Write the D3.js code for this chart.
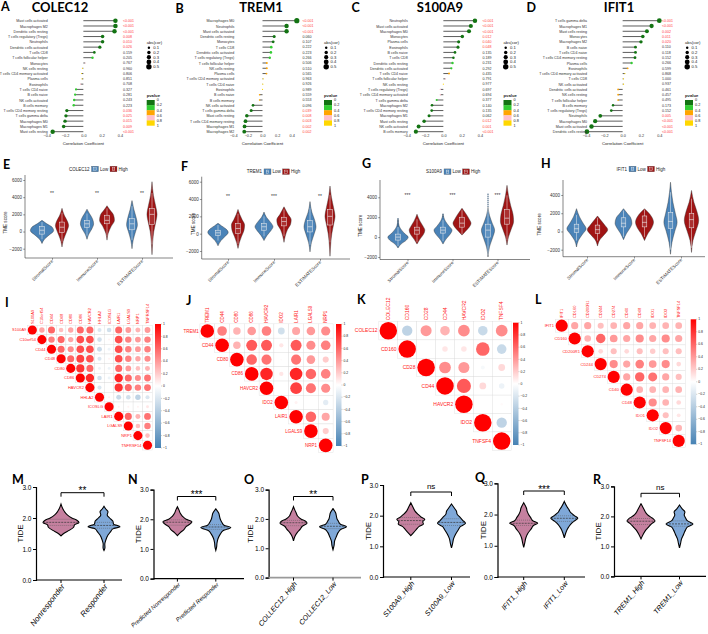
<!DOCTYPE html>
<html><head><meta charset="utf-8">
<script src="https://cdn.jsdelivr.net/npm/d3@7/dist/d3.min.js"></script>
<style>html,body{margin:0;padding:0;background:#fff;}svg{display:block;}</style>
</head><body>
<svg id="fig" width="708" height="634" xmlns="http://www.w3.org/2000/svg"></svg>
<script>
const FONT = "'Liberation Sans', Arial, Helvetica, sans-serif";
const BOLD = "Lato, 'Open Sans', 'Liberation Sans', sans-serif";

// ================= A-D : immune cell correlation lollipops =================
const cellsA = ["Mast cells activated","Macrophages M2","Dendritic cells resting","T cells regulatory (Tregs)","Neutrophils","Dendritic cells activated","T cells CD8","T cells follicular helper","Monocytes","NK cells resting","T cells CD4 memory activated","Plasma cells","Eosinophils","T cells CD4 naive","B cells naive","NK cells activated","B cells memory","T cells CD4 memory resting","T cells gamma delta","Macrophages M0","Macrophages M1","Mast cells resting"];
const corA = [0.35,0.35,0.34,0.21,0.21,0.18,0.12,0.10,0.02,-0.01,-0.02,-0.015,-0.03,-0.08,-0.09,-0.10,-0.105,-0.18,-0.19,-0.20,-0.215,-0.335];
const pA = [0,0,0,0.008,0.010,0.026,0.159,0.205,0.767,0.960,0.806,0.851,0.708,0.327,0.281,0.243,0.223,0.036,0.025,0.015,0.009,0];

const cellsB = ["Macrophages M0","Neutrophils","Mast cells activated","Dendritic cells resting","Monocytes","T cells CD8","Dendritic cells activated","T cells regulatory (Tregs)","T cells follicular helper","NK cells resting","Plasma cells","T cells CD4 memory activated","T cells CD4 naive","Eosinophils","B cells naive","B cells memory","NK cells activated","T cells gamma delta","Mast cells resting","T cells CD4 memory resting","Macrophages M1","Macrophages M2"];
const corB = [0.47,0.33,0.33,0.16,0.146,0.12,0.115,0.10,0.06,0.06,0.055,0.01,0.005,0.0,-0.04,-0.04,-0.13,-0.155,-0.215,-0.233,-0.246,-0.25];
const pB = [0,0,0,0.060,0.107,0.222,0.223,0.266,0.506,0.510,0.565,0.963,0.926,0.989,0.559,0.553,0.096,0.039,0.008,0.003,0.002,0.002];

const cellsC = ["Neutrophils","Mast cells activated","Macrophages M0","Monocytes","Plasma cells","Eosinophils","B cells naive","T cells CD8","Dendritic cells resting","Dendritic cells activated","T cells CD4 naive","T cells follicular helper","NK cells resting","T cells regulatory (Tregs)","T cells CD4 memory activated","T cells gamma delta","Macrophages M2","T cells CD4 memory resting","Macrophages M1","Mast cells resting","NK cells activated","B cells memory"];
const corC = [0.345,0.30,0.28,0.207,0.167,0.16,0.127,0.11,0.10,0.087,0.062,0.022,0.0,-0.033,-0.033,-0.073,-0.124,-0.127,-0.156,-0.21,-0.27,-0.30];
const pC = [0,0,0,0.012,0.040,0.048,0.135,0.189,0.231,0.292,0.435,0.791,0.977,0.697,0.694,0.377,0.140,0.135,0.062,0.012,0.001,0];

const cellsD = ["T cells gamma delta","Macrophages M1","Mast cells resting","Monocytes","Macrophages M2","B cells naive","T cells CD4 naive","T cells CD4 memory resting","Plasma cells","Eosinophils","T cells CD4 memory activated","T cells CD8","NK cells activated","Dendritic cells activated","NK cells resting","T cells follicular helper","B cells memory","T cells regulatory (Tregs)","Neutrophils","Macrophages M0","Mast cells activated","Dendritic cells resting"];
const corD = [0.40,0.316,0.265,0.22,0.20,0.14,0.14,0.135,0.098,0.055,0.025,0.01,0.01,-0.05,-0.05,-0.05,-0.105,-0.124,-0.244,-0.30,-0.34,-0.39];
const pD = [0,0,0.002,0.011,0.020,0.110,0.118,0.152,0.266,0.599,0.868,1.000,0.937,0.461,0.457,0.495,0.173,0.152,0.005,0,0,0];

const corTicks = [-0.4,-0.2,0,0.2,0.4];
const absCorLegend = [0.1,0.2,0.3,0.4,0.5];
const pLegend = [0,0.2,0.4,0.6,0.8,1];
const pColors = ["#137313","#33cc33","#ffa500","#ffc0cb","#ffd700"];

// ================= E-H : TME scores =================
const tmeGroups = ["StromalScore","ImmuneScore","ESTIMATEScore"];
const tmeTicksEF = [-2000,0,2000,4000,6000];
const tmeTicksGH = [-2000,0,2000,4000];
// violin knots: [value, relative density]
const colec12Low = [
  [[-1400,0],[-900,0.2],[-400,0.6],[100,0.97],[500,0.85],[900,0.4],[1300,0]],
  [[-900,0],[-300,0.15],[300,0.4],[900,0.55],[1500,0.45],[2100,0.2],[2600,0]],
  [[-2000,0],[-1000,0.1],[0,0.3],[800,0.45],[1600,0.35],[2600,0.15],[3600,0]]];
const colec12High = [
  [[-1800,0],[-1200,0.08],[-500,0.25],[200,0.45],[700,0.55],[1200,0.45],[1800,0.22],[2300,0.08],[2700,0]],
  [[-1000,0],[-200,0.1],[600,0.35],[1300,0.62],[1900,0.55],[2500,0.25],[3000,0]],
  [[-2700,0],[-1200,0.06],[0,0.15],[1000,0.3],[2000,0.42],[3000,0.3],[4200,0.12],[5800,0]]];
const colec12LowBox = [[-900,-300,150,600,1100],[-500,500,900,1300,2100],[-1000,200,900,1500,3000]];
const colec12HighBox = [[-1200,-100,500,1100,2200],[-500,900,1300,1900,2700],[-1500,800,2000,2700,4500]];
const colec12Sig = ["**","**","**"];

const trem1Low = [
  [[-1400,0],[-800,0.25],[-300,0.6],[150,0.85],[500,0.7],[900,0.3],[1200,0]],
  [[-800,0],[-200,0.25],[400,0.6],[800,0.75],[1300,0.55],[1900,0.2],[2500,0]],
  [[-2100,0],[-1000,0.12],[0,0.35],[800,0.5],[1500,0.4],[2500,0.15],[3700,0]]];
const trem1High = [
  [[-1700,0],[-1000,0.12],[-300,0.3],[400,0.5],[1000,0.55],[1600,0.35],[2200,0.15],[2800,0]],
  [[-1000,0],[-300,0.1],[500,0.3],[1100,0.55],[1600,0.6],[2200,0.35],[3100,0]],
  [[-2600,0],[-1200,0.06],[0,0.15],[1200,0.32],[2000,0.42],[3000,0.3],[4200,0.12],[5500,0]]];
const trem1LowBox = [[-800,-200,100,400,1000],[-300,400,800,1200,2000],[-1300,200,800,1500,3000]];
const trem1HighBox = [[-1200,0,600,1200,2300],[-300,900,1400,1900,2800],[-1000,1000,2000,2800,4500]];
const trem1Sig = ["**","***","**"];

const s100a9Low = [
  [[-1100,0],[-700,0.25],[-300,0.7],[0,0.85],[300,0.6],[700,0.3],[1100,0.1],[1800,0]],
  [[-700,0],[-200,0.25],[300,0.6],[700,0.75],[1100,0.5],[1600,0.2],[2300,0]],
  [[-2000,0],[-1000,0.12],[0,0.4],[700,0.55],[1400,0.35],[2200,0.12],[3000,0]]];
const s100a9High = [
  [[-700,0],[-200,0.25],[300,0.55],[700,0.65],[1100,0.5],[1600,0.25],[2300,0]],
  [[200,0],[600,0.3],[1000,0.6],[1400,0.75],[1800,0.6],[2300,0.35],[2900,0]],
  [[-800,0],[0,0.12],[800,0.35],[1600,0.55],[2300,0.5],[3200,0.3],[4200,0.12],[5200,0]]];
const s100a9LowBox = [[-900,-300,0,300,1000],[-400,400,700,1000,1700],[-1800,0,700,1300,3000]];
const s100a9HighBox = [[-500,300,700,1000,1800],[300,1000,1400,2000,2700],[-300,1300,1900,2800,4200]];
const s100a9Sig = ["***","***","***"];
const s100a9LowOutliers = [[0,1100],[0,1250],[0,1400],[0,1550],[0,1700],[0,1850],[1,2100],[1,2300],[2,3100],[2,3300],[2,3500],[2,3700],[2,3900],[2,4100],[2,4300]];

const ifit1Low = [
  [[-1700,0],[-1000,0.15],[-300,0.5],[300,0.8],[900,0.55],[1600,0.25],[2500,0]],
  [[-900,0],[-200,0.25],[400,0.55],[900,0.7],[1500,0.6],[2000,0.3],[2500,0]],
  [[-2500,0],[-1200,0.12],[0,0.35],[1000,0.55],[2000,0.4],[3200,0.2],[4300,0.08],[5400,0]]];
const ifit1High = [
  [[-1600,0],[-900,0.2],[-300,0.6],[200,0.85],[700,0.6],[1200,0.3],[1700,0]],
  [[-1000,0],[-300,0.25],[400,0.6],[1000,0.75],[1600,0.6],[2100,0.3],[2500,0]],
  [[-2300,0],[-1000,0.12],[0,0.35],[1200,0.6],[2200,0.45],[3200,0.2],[4500,0]]];
const ifit1LowBox = [[-1000,-100,300,800,1800],[-600,500,900,1500,2300],[-2000,300,1100,2100,4300]];
const ifit1HighBox = [[-1000,-200,200,700,1500],[-600,500,1000,1700,2400],[-1800,400,1300,2000,3600]];
const ifit1Sig = ["","",""];

// ================= I-L : correlation matrices (upper triangle rows) =================
const namesI = ["S100A9","C10orf54","CD44","CD48","CD80","CD86","HAVCR2","HHLA2","ICOSLG","LAIR1","LGALS9","NRP1","TNFRSF14"];
const corrI = [
  [1,0.35,0.6,0.25,0.35,0.6,0.6,-0.2,-0.25,0.6,0.4,0.3,0.4],
  [1,0.5,0.6,0.35,0.7,0.7,-0.25,0.05,0.7,0.5,0.4,0.5],
  [1,0.6,0.45,0.7,0.7,-0.3,-0.1,0.7,0.5,0.4,0.5],
  [1,0.6,0.75,0.7,-0.2,0.05,0.7,0.5,0.35,0.45],
  [1,0.8,0.6,-0.1,-0.1,0.6,0.4,0.25,0.3],
  [1,0.85,-0.25,-0.1,0.85,0.6,0.45,0.55],
  [1,-0.2,0.0,0.8,0.6,0.5,0.55],
  [1,0.05,-0.3,-0.25,-0.35,-0.2],
  [1,0.05,0.05,0.05,0.1],
  [1,0.6,0.3,0.55],
  [1,0.25,0.5],
  [1,0.25],
  [1]];
const namesJ = ["TREM1","CD44","CD80","CD86","HAVCR2","IDO2","LAIR1","LGALS9","NRP1"];
const corrJ = [
  [1,0.5,0.3,0.4,0.5,-0.25,0.35,0.4,0.45],
  [1,0.3,0.65,0.65,0.1,0.65,0.45,0.5],
  [1,0.6,0.55,0.02,0.55,0.4,0.2],
  [1,0.85,0.1,0.85,0.6,0.5],
  [1,0.0,0.75,0.55,0.45],
  [1,0.05,0.0,-0.15],
  [1,0.6,0.35],
  [1,0.2],
  [1]];
const namesK = ["COLEC12","CD160","CD28","CD44","HAVCR2","IDO2","TNFSF4"];
const corrK = [
  [1,-0.35,0.4,0.3,0.45,-0.3,0.45],
  [1,0.0,0.1,0.1,0.6,-0.3],
  [1,0.45,0.4,-0.05,0.15],
  [1,0.65,0.15,-0.1],
  [1,0.0,0.02],
  [1,-0.35],
  [1]];
const namesL = ["IFIT1","CD160","CD200R1","CD244","CD274","CD40","CD48","IDO1","IDO2","TNFSF14"];
const corrL = [
  [1,0.35,0.35,0.25,0.3,0.35,0.35,0.3,0.3,0.3],
  [1,0.3,0.6,0.4,0.35,0.45,0.35,0.45,0.35],
  [1,0.15,0.25,0.15,0.25,0.2,0.25,0.25],
  [1,0.45,0.35,0.5,0.4,0.45,0.15],
  [1,0.35,0.6,0.55,0.35,0.25],
  [1,0.3,0.3,0.3,0.3],
  [1,0.45,0.3,0.15],
  [1,0.25,0.1],
  [1,0.3],
  [1]];
const corrBarTicks = [1,0.8,0.6,0.4,0.2,0,-0.2,-0.4,-0.6,-0.8,-1];

// ================= M-R : TIDE violins =================
const tideTicks = [0,1,2,3];
const catsM = ["Nonresponder","Responder"];
const tideM1 = [[1.42,0],[1.5,0.15],[1.6,0.45],[1.7,0.7],[1.78,0.75],[1.85,1.0],[1.92,0.9],[2.0,0.6],[2.1,0.35],[2.2,0.2],[2.3,0.1],[2.45,0]];
const tideM2 = [[0.95,0],[1.05,0.06],[1.15,0.05],[1.3,0.12],[1.45,0.25],[1.55,0.4],[1.65,0.55],[1.72,1.0],[1.8,0.6],[1.9,0.55],[2.0,0.35],[2.1,0.2],[2.2,0.25],[2.3,0.1],[2.38,0]];
const quartM = [[1.76,1.86,1.96],[1.67,1.76,1.86]];
const catsN = ["Predicted Nonresponder","Predicted Responder"];
const tideN1 = [[1.45,0],[1.55,0.2],[1.65,0.45],[1.75,0.6],[1.85,0.9],[1.92,1.0],[2.0,0.6],[2.1,0.35],[2.2,0.2],[2.3,0.12],[2.42,0]];
const tideN2 = [[0.95,0],[1.05,0.05],[1.2,0.08],[1.35,0.15],[1.5,0.3],[1.62,0.5],[1.72,1.0],[1.8,0.55],[1.9,0.4],[2.0,0.3],[2.1,0.25],[2.2,0.2],[2.35,0]];
const quartN = [[1.8,1.9,1.98],[1.66,1.74,1.82]];
const catsO = ["COLLEC12_High","COLLEC12_Low"];
const tideO1 = [[1.25,0],[1.4,0.1],[1.55,0.3],[1.65,0.5],[1.75,0.65],[1.85,1.0],[1.92,0.9],[2.0,0.55],[2.1,0.3],[2.2,0.2],[2.3,0.1],[2.42,0]];
const tideO2 = [[0.95,0],[1.1,0.08],[1.25,0.12],[1.4,0.25],[1.55,0.4],[1.65,0.6],[1.73,1.0],[1.82,0.55],[1.92,0.4],[2.0,0.3],[2.1,0.25],[2.2,0.2],[2.35,0]];
const quartO = [[1.77,1.87,1.95],[1.67,1.75,1.85]];
const catsP = ["S100A9_High","S100A9_Low"];
const tideP1 = [[1.35,0],[1.45,0.2],[1.55,0.4],[1.65,0.6],[1.73,0.9],[1.8,0.85],[1.88,1.0],[1.95,0.75],[2.05,0.5],[2.15,0.3],[2.28,0.15],[2.42,0]];
const tideP2 = [[0.95,0],[1.1,0.08],[1.25,0.15],[1.4,0.3],[1.55,0.5],[1.65,0.65],[1.75,1.0],[1.85,0.8],[1.95,0.6],[2.05,0.4],[2.15,0.35],[2.25,0.2],[2.38,0]];
const quartP = [[1.72,1.84,1.94],[1.68,1.78,1.9]];
const catsQ = ["IFIT1_High","IFIT1_Low"];
const tideQ1 = [[0.95,0],[1.1,0.08],[1.25,0.15],[1.4,0.3],[1.55,0.55],[1.65,0.7],[1.72,1.0],[1.8,0.65],[1.9,0.5],[2.0,0.35],[2.1,0.25],[2.2,0.2],[2.38,0]];
const tideQ2 = [[1.25,0],[1.4,0.1],[1.55,0.25],[1.68,0.45],[1.78,0.7],[1.88,1.0],[1.95,0.8],[2.05,0.5],[2.15,0.35],[2.25,0.2],[2.42,0]];
const quartQ = [[1.65,1.72,1.82],[1.78,1.88,1.96]];
const catsR = ["TREM1_High","TREM1_Low"];
const tideR1 = [[1.25,0],[1.4,0.15],[1.55,0.35],[1.65,0.55],[1.75,0.75],[1.85,1.0],[1.93,0.85],[2.02,0.55],[2.12,0.35],[2.25,0.2],[2.42,0]];
const tideR2 = [[0.95,0],[1.1,0.08],[1.25,0.15],[1.4,0.3],[1.55,0.45],[1.65,0.6],[1.75,1.0],[1.85,0.6],[1.95,0.45],[2.05,0.35],[2.15,0.4],[2.25,0.2],[2.38,0]];
const quartR = [[1.73,1.84,1.93],[1.67,1.75,1.85]];
const tideSig = ["**","***","**","ns","***","ns"];

// ======================================================================
const svg = d3.select("#fig");
svg.append("rect").attr("width",708).attr("height",634).attr("fill","#fff");
const defs = svg.append("defs");

function panelLabel(t, x, y) {
  svg.append("text").attr("x",x).attr("y",y).text(t)
    .attr("font-family",BOLD).attr("font-weight","bold").attr("font-size",12.5).attr("fill","#000");
}

// ---------- lollipop ----------
const pColor = d3.scaleThreshold().domain([0.2,0.4,0.6,0.8]).range(pColors);
const rSize = d3.scaleSqrt().domain([0,0.5]).range([0,2.7]);
function lollipop(cells, cor, p, o) {
  const g = svg.append("g");
  const x = d3.scaleLinear().domain([-0.4,0.4]).range([o.xa,o.xb]);
  const y = d3.scalePoint().domain(cells).range([20.7,131.7]);
  g.selectAll("line.seg").data(cells).join("line").attr("class","seg")
    .attr("x1",x(0)).attr("x2",(d,i)=>x(cor[i])).attr("y1",d=>y(d)).attr("y2",d=>y(d))
    .attr("stroke","#4a4a4a").attr("stroke-width",0.9);
  g.selectAll("circle.dot").data(cells).join("circle").attr("class","dot")
    .attr("cx",(d,i)=>x(cor[i])).attr("cy",d=>y(d))
    .attr("r",(d,i)=>Math.max(0.55,rSize(Math.abs(cor[i])))).attr("fill",(d,i)=>pColor(p[i]));
  const ya = g.append("g").attr("transform",`translate(${x(-0.4)+1},0)`)
    .call(d3.axisLeft(y).tickSize(0).tickPadding(0));
  ya.select(".domain").remove();
  ya.attr("font-size",3.6).attr("font-family",FONT).selectAll("text").attr("fill","#333");
  g.selectAll("text.pv").data(cells).join("text").attr("class","pv")
    .attr("x",o.px).attr("y",d=>y(d)).attr("dy","0.35em")
    .attr("font-size",3.6).attr("font-family",FONT)
    .attr("fill",(d,i)=>p[i]<0.05?"#ff4040":"#333")
    .text((d,i)=>p[i]<0.001?"<0.001":p[i].toFixed(3));
  const xa = g.append("g").attr("transform","translate(0,132.5)")
    .call(d3.axisBottom(x).tickValues(corTicks).tickSize(0).tickPadding(1.5).tickFormat(d3.format(".1f")));
  xa.select(".domain").remove();
  xa.attr("font-size",3.8).attr("font-family",FONT).selectAll("text").attr("fill","#333");
  g.append("text").attr("x",x(0)).attr("y",144.5).attr("text-anchor","middle")
    .attr("font-size",4.2).attr("font-family",FONT).attr("fill","#222").text("Correlation Coefficient");
  // title
  g.append("text").attr("x",o.tx).attr("y",11.5).attr("text-anchor","middle")
    .attr("font-family",BOLD).attr("font-weight","bold").attr("font-size",13).text(o.title);
  // legend
  const lg = g.append("g").attr("transform",`translate(${o.lx},0)`);
  lg.append("text").attr("x",0).attr("y",44).attr("font-size",4.2).attr("font-family",FONT).attr("fill","#222").text("abs(cor)");
  absCorLegend.forEach((v,i)=>{
    const yy = 47.7 + i*4.75;
    lg.append("circle").attr("cx",2.2).attr("cy",yy).attr("r",rSize(v)).attr("fill","#000");
    lg.append("text").attr("x",6.5).attr("y",yy).attr("dy","0.35em").attr("font-size",4.2).attr("font-family",FONT).attr("fill","#222").text(v);
  });
  lg.append("text").attr("x",0).attr("y",97).attr("font-size",4.2).attr("font-weight","bold").attr("font-family",FONT).attr("fill","#222").text("pvalue");
  const py = d3.scaleLinear().domain([0,1]).range([100,125.5]);
  pColors.forEach((c,i)=>{
    lg.append("rect").attr("x",0).attr("y",py(i*0.2)).attr("width",8).attr("height",py(0.2)-py(0)+0.2).attr("fill",c);
  });
  pLegend.forEach(v=>{
    lg.append("text").attr("x",10).attr("y",py(v)).attr("dy","0.35em").attr("font-size",3.8).attr("font-family",FONT).attr("fill","#222").text(v);
  });
}
lollipop(cellsA,corA,pA,{xa:46.7,xb:120,px:123,tx:60,title:"COLEC12",lx:146.7});
lollipop(cellsB,corB,pB,{xa:233.3,xb:291.7,px:302.5,tx:261,title:"TREM1",lx:324});
lollipop(cellsC,corC,pC,{xa:406.7,xb:480,px:482.5,tx:440,title:"S100A9",lx:503.5});
lollipop(cellsD,corD,pD,{xa:586,xb:659.3,px:662,tx:619,title:"IFIT1",lx:685});
panelLabel("A",1,10.5); panelLabel("B",175.5,12.5); panelLabel("C",351.5,12); panelLabel("D",526.5,12);

// ---------- TME violins ----------
const BLUE = "#4a83b8", RED = "#a01414";
function sortKnots(k){ return k.slice().sort((a,b)=>b[0]-a[0]); }
function tmePanel(o, gene, ticks, low, high, lowBox, highBox, sig, outliers) {
  const g = svg.append("g");
  const y = d3.scaleLinear().domain([-2000,o.topV]).range([o.yA,o.yB]);
  const x = d3.scalePoint().domain(tmeGroups).range([o.c0,o.c2]);
  const w = d3.scaleLinear().domain([0,1]).range([0,12]);
  g.append("line").attr("x1",o.ax).attr("x2",o.ax).attr("y1",o.top).attr("y2",o.bot).attr("stroke","#333").attr("stroke-width",0.6);
  g.append("line").attr("x1",o.ax).attr("x2",o.xEnd).attr("y1",o.bot).attr("y2",o.bot).attr("stroke","#333").attr("stroke-width",0.6);
  const ya = g.append("g").attr("transform",`translate(${o.ax},0)`)
    .call(d3.axisLeft(y).tickValues(ticks).tickSize(1.8).tickPadding(1.2).tickFormat(d3.format("d")));
  ya.select(".domain").remove();
  ya.attr("font-size",4.5).attr("font-family",FONT);
  ya.selectAll("line").attr("stroke","#333").attr("stroke-width",0.5);
  ya.selectAll("text").attr("fill","#333");
  const xa = g.append("g").attr("transform",`translate(0,${o.bot})`)
    .call(d3.axisBottom(x).tickSize(1.8).tickPadding(1));
  xa.select(".domain").remove();
  xa.attr("font-size",4.6).attr("font-family",FONT);
  xa.selectAll("line").attr("stroke","#333").attr("stroke-width",0.5);
  xa.selectAll("text").attr("fill","#333").attr("text-anchor","end")
    .attr("y",0).attr("dy",0).attr("transform","translate(1,3.5) rotate(-45)");
  g.append("text").attr("transform",`translate(${o.tx},${(o.top+o.bot)/2+6}) rotate(-90)`)
    .attr("text-anchor","middle").attr("font-size",4.6).attr("font-family",FONT).attr("fill","#222").text("TME score");
  const area = (cx)=>d3.area().y(d=>y(d[0])).x0(d=>cx-w(d[1])).x1(d=>cx+w(d[1])).curve(d3.curveMonotoneY);
  function drawBox(cx, b) {
    const bw = 2.3;
    g.append("line").attr("x1",cx).attr("x2",cx).attr("y1",y(b[0])).attr("y2",y(b[1])).attr("stroke","#f2f2f2").attr("stroke-width",0.5);
    g.append("line").attr("x1",cx).attr("x2",cx).attr("y1",y(b[3])).attr("y2",y(b[4])).attr("stroke","#f2f2f2").attr("stroke-width",0.5);
    g.append("rect").attr("x",cx-bw).attr("width",2*bw).attr("y",y(b[3])).attr("height",y(b[1])-y(b[3]))
      .attr("fill","rgba(255,255,255,0.12)").attr("stroke","#f2f2f2").attr("stroke-width",0.5);
    g.append("line").attr("x1",cx-bw).attr("x2",cx+bw).attr("y1",y(b[2])).attr("y2",y(b[2])).attr("stroke","#f2f2f2").attr("stroke-width",0.6);
  }
  tmeGroups.forEach((grp,i)=>{
    const cl = x(grp)-o.off, ch = x(grp)+o.off;
    g.append("path").attr("d",area(cl)(sortKnots(low[i]))).attr("fill",BLUE).attr("stroke","#2a2a2a").attr("stroke-width",0.4);
    g.append("path").attr("d",area(ch)(sortKnots(high[i]))).attr("fill",RED).attr("stroke","#2a2a2a").attr("stroke-width",0.4);
    drawBox(cl, lowBox[i]); drawBox(ch, highBox[i]);
    if (sig[i]) g.append("text").attr("x",x(grp)).attr("y",o.sigY).attr("text-anchor","middle")
      .attr("font-size",5).attr("font-family",FONT).attr("fill","#333").text(sig[i]);
  });
  if (outliers) outliers.forEach(d=>{
    g.append("circle").attr("cx",x(tmeGroups[d[0]])-o.off).attr("cy",y(d[1])).attr("r",0.7).attr("fill","#3f5f7f");
  });
  // legend
  const lg = g.append("g").attr("transform",`translate(${o.lx},${o.ly})`).attr("font-family",FONT).attr("font-size",4.5);
  lg.append("text").attr("x",0).attr("y",0).attr("dy","0.35em").attr("text-anchor","end").attr("fill","#222").text(gene);
  [[BLUE,"Low",2,10.5],[RED,"High",20.5,29]].forEach(([c,t,kx,tx])=>{
    lg.append("rect").attr("x",kx).attr("y",-2.8).attr("width",7).attr("height",5.6).attr("fill",c).attr("stroke","#555").attr("stroke-width",0.3);
    lg.append("rect").attr("x",kx+2.2).attr("y",-1.6).attr("width",2.6).attr("height",3.2).attr("fill","none").attr("stroke","#eee").attr("stroke-width",0.4);
    lg.append("line").attr("x1",kx+2.2).attr("x2",kx+4.8).attr("y1",0).attr("y2",0).attr("stroke","#eee").attr("stroke-width",0.4);
    lg.append("text").attr("x",tx).attr("y",0).attr("dy","0.35em").attr("fill","#222").text(t);
  });
}
tmePanel({topV:6000,yA:248.7,yB:180,ax:25,top:175,bot:258,xEnd:173,c0:52,c2:142,off:10,tx:6.5,sigY:195,lx:89.5,ly:169},
  "COLEC12",tmeTicksEF,colec12Low,colec12High,colec12LowBox,colec12HighBox,colec12Sig,null);
tmePanel({topV:6000,yA:251,yB:181.7,ax:201.7,top:176.7,bot:259,xEnd:350,c0:228,c2:320,off:10,tx:195,sigY:198,lx:262,ly:171.7},
  "TREM1",tmeTicksEF,trem1Low,trem1High,trem1LowBox,trem1HighBox,trem1Sig,null);
tmePanel({topV:4000,yA:257,yB:197.3,ax:380,top:180,bot:259.5,xEnd:530,c0:407.5,c2:497.5,off:9.5,tx:362,sigY:197,lx:442,ly:171.7},
  "S100A9",tmeTicksGH,s100a9Low,s100a9High,s100a9LowBox,s100a9HighBox,s100a9Sig,s100a9LowOutliers);
tmePanel({topV:4000,yA:249.7,yB:195,ax:563,top:180,bot:256.7,xEnd:705,c0:587,c2:681,off:10.5,tx:541,sigY:190,lx:627,ly:169},
  "IFIT1",tmeTicksGH,ifit1Low,ifit1High,ifit1LowBox,ifit1HighBox,ifit1Sig,null);
panelLabel("E",3,168.5); panelLabel("F",181,170.5); panelLabel("G",362,168); panelLabel("H",541,168);

// ---------- correlation matrices ----------
const corrColor = d3.scaleLinear().domain([-1,0,1]).range(["#4682b4","#ffffff","#ff0000"]);
const cg = defs.append("linearGradient").attr("id","corrGrad").attr("x1",0).attr("y1",0).attr("x2",0).attr("y2",1);
[[0,"#ff0000"],[0.5,"#ffffff"],[1,"#4682b4"]].forEach(([o,c])=>cg.append("stop").attr("offset",o).attr("stop-color",c));
function corrPanel(names, rows, o) {
  const g = svg.append("g").attr("font-family",FONT);
  const n = names.length;
  const cx = d3.scaleLinear().domain([0,n-1]).range([o.x0,o.x0+(n-1)*o.cw]);
  const cy = d3.scaleLinear().domain([0,n-1]).range([o.y0,o.y0+(n-1)*o.ch]);
  const R = Math.min(o.cw,o.ch)/2*0.95;
  rows.forEach((row,i)=>{
    row.forEach((v,k)=>{
      const j = i+k;
      g.append("rect").attr("x",cx(j)-o.cw/2).attr("y",cy(i)-o.ch/2).attr("width",o.cw).attr("height",o.ch)
        .attr("fill","#fff").attr("stroke","#dcdcdc").attr("stroke-width",0.4);
    });
  });
  rows.forEach((row,i)=>{
    row.forEach((v,k)=>{
      const j = i+k;
      g.append("circle").attr("cx",cx(j)).attr("cy",cy(i)).attr("r",Math.sqrt(Math.abs(v))*R).attr("fill",corrColor(v));
    });
    g.append("text").attr("x",cx(i)-o.cw/2-1.2).attr("y",cy(i)).attr("dy","0.35em").attr("text-anchor","end")
      .attr("font-size",o.fs).attr("fill","#ff2020").text(names[i]);
  });
  names.forEach((nm,j)=>{
    g.append("text").attr("transform",`translate(${cx(j)},${cy(0)-o.ch/2-1.2}) rotate(-90)`).attr("dy","0.35em")
      .attr("font-size",o.fs).attr("fill","#ff2020").text(nm);
  });
  g.append("rect").attr("x",o.bx).attr("y",o.by0).attr("width",o.bw).attr("height",o.by1-o.by0).attr("fill","url(#corrGrad)");
  const by = d3.scaleLinear().domain([1,-1]).range([o.by0,o.by1]);
  corrBarTicks.forEach(v=>{
    g.append("line").attr("x1",o.bx+o.bw).attr("x2",o.bx+o.bw+1).attr("y1",by(v)).attr("y2",by(v)).attr("stroke","#555").attr("stroke-width",0.3);
    g.append("text").attr("x",o.bx+o.bw+2).attr("y",by(v)).attr("dy","0.35em").attr("font-size",3.4).attr("fill","#222").text(d3.format("")(v));
  });
}
corrPanel(namesI,corrI,{x0:32.3,cw:9.6,y0:330,ch:9.6,bx:155,bw:6,by0:324,by1:448,fs:4});
corrPanel(namesJ,corrJ,{x0:207.3,cw:14.8,y0:331,ch:14.3,bx:336,bw:5.5,by0:324,by1:446,fs:4.5});
corrPanel(namesK,corrK,{x0:388.3,cw:18.9,y0:330.7,ch:18.4,bx:513,bw:5.5,by0:322.7,by1:445,fs:5});
corrPanel(namesL,corrL,{x0:561.7,cw:13.0,y0:325.7,ch:12.8,bx:690.7,bw:5.5,by0:319.3,by1:444.3,fs:4});
panelLabel("I",5,306.5); panelLabel("J",186,304.5); panelLabel("K",357,303.5); panelLabel("L",535,303.5);

// ---------- TIDE violins ----------
const PINK = "#c5809f", LBLUE = "#7fa8d8";
function widthAt(knots, v) {
  for (let i=1;i<knots.length;i++) {
    if (v<=knots[i][0]) { const a=knots[i-1], b=knots[i]; return a[1]+(b[1]-a[1])*(v-a[0])/(b[0]-a[0]); }
  }
  return 0;
}
function tidePanel(cats, v1, v2, quart, sig, o) {
  const g = svg.append("g").attr("font-family",FONT);
  const y = d3.scaleLinear().domain([0,3]).range([o.y0,o.y3]);
  const x = d3.scalePoint().domain(cats).range([o.c1,o.c2]);
  const ya = g.append("g").attr("transform",`translate(${o.ax},0)`)
    .call(d3.axisLeft(y).tickValues(tideTicks).tickSize(3).tickPadding(1.5));
  ya.attr("font-size",6.5).attr("font-family",FONT);
  ya.select(".domain").attr("stroke","#000").attr("stroke-width",1.2);
  ya.selectAll(".tick line").attr("stroke","#000").attr("stroke-width",1);
  g.append("line").attr("x1",o.ax).attr("x2",o.xEnd).attr("y1",o.y0).attr("y2",o.y0)
    .attr("stroke",o.grey?"#9a9a9a":"#000").attr("stroke-width",o.grey?1.8:1.2);
  cats.forEach(c=>{
    g.append("line").attr("x1",x(c)).attr("x2",x(c)).attr("y1",o.y0).attr("y2",o.y0+3).attr("stroke","#000").attr("stroke-width",1);
    g.append("text").attr("transform",`translate(${x(c)+2},${o.y0+5}) rotate(${o.ang})`).attr("text-anchor","end")
      .attr("dy","0.35em").attr("font-size",o.fs).attr("font-style","italic").attr("fill","#000").text(c);
  });
  g.append("text").attr("transform",`translate(${o.tx},${(o.y0+o.y3)/2}) rotate(-90)`).attr("text-anchor","middle")
    .attr("dy","0.35em").attr("font-size",8).attr("fill","#000").text("TIDE");
  [[v1,PINK,o.w1,quart[0],cats[0]],[v2,LBLUE,o.w2,quart[1],cats[1]]].forEach(([kn,col,wm,q,c])=>{
    const cx = x(c);
    const w = d3.scaleLinear().domain([0,1]).range([0,wm]);
    const ar = d3.area().y(d=>y(d[0])).x0(d=>cx-w(d[1])).x1(d=>cx+w(d[1])).curve(d3.curveMonotoneY);
    g.append("path").attr("d",ar(sortKnots(kn))).attr("fill",col).attr("stroke","#000").attr("stroke-width",1.1);
    q.forEach((qv,qi)=>{
      const hw = w(widthAt(kn,qv));
      g.append("line").attr("x1",cx-hw).attr("x2",cx+hw).attr("y1",y(qv)).attr("y2",y(qv))
        .attr("stroke",qi===1?"#333":"#555").attr("stroke-width",qi===1?0.7:0.5).attr("stroke-dasharray",qi===1?"2,1":"1,1");
    });
  });
  g.append("path").attr("d",`M${o.c1},${o.by+4}V${o.by}H${o.c2}V${o.by+4}`).attr("fill","none").attr("stroke","#000").attr("stroke-width",1);
  const isNs = sig==="ns";
  g.append("text").attr("x",(o.c1+o.c2)/2).attr("y",isNs?o.by-3:o.by+1.5).attr("text-anchor","middle")
    .attr("font-size",isNs?8:10).attr("fill","#000").text(sig);
}
tidePanel(catsM,tideM1,tideM2,quartM,tideSig[0],{ax:36,y0:580,y3:487,xEnd:122,c1:61,c2:104,by:492.7,w1:18,w2:16,fs:8,ang:-52,tx:20});
tidePanel(catsN,tideN1,tideN2,quartN,tideSig[1],{ax:153.5,y0:578.6,y3:489.6,xEnd:244,c1:177.4,c2:215.8,by:496.5,w1:14.5,w2:15,fs:5.9,ang:-42,tx:137.7});
tidePanel(catsO,tideO1,tideO2,quartO,tideSig[2],{ax:268.6,y0:577.6,y3:489.6,xEnd:361,c1:293.5,c2:333,by:496.5,w1:13.5,w2:13.5,fs:7.2,ang:-50,tx:250.6,grey:true});
tidePanel(catsP,tideP1,tideP2,quartP,tideSig[3],{ax:383,y0:577,y3:485,xEnd:470,c1:410.8,c2:451.5,by:492,w1:14,w2:14,fs:7.2,ang:-50,tx:368});
tidePanel(catsQ,tideQ1,tideQ2,quartQ,tideSig[4],{ax:497.5,y0:577,y3:483.3,xEnd:585,c1:523.7,c2:564.3,by:491,w1:14,w2:13.5,fs:7.2,ang:-50,tx:483});
tidePanel(catsR,tideR1,tideR2,quartR,tideSig[5],{ax:614,y0:576.4,y3:486.4,xEnd:706,c1:641,c2:679.5,by:493.3,w1:14,w2:13.5,fs:7.2,ang:-50,tx:598});
panelLabel("M",12,484); panelLabel("N",128,484); panelLabel("O",244,484); panelLabel("P",361,484); panelLabel("Q",475,482); panelLabel("R",593,484);
</script>
</body></html>
